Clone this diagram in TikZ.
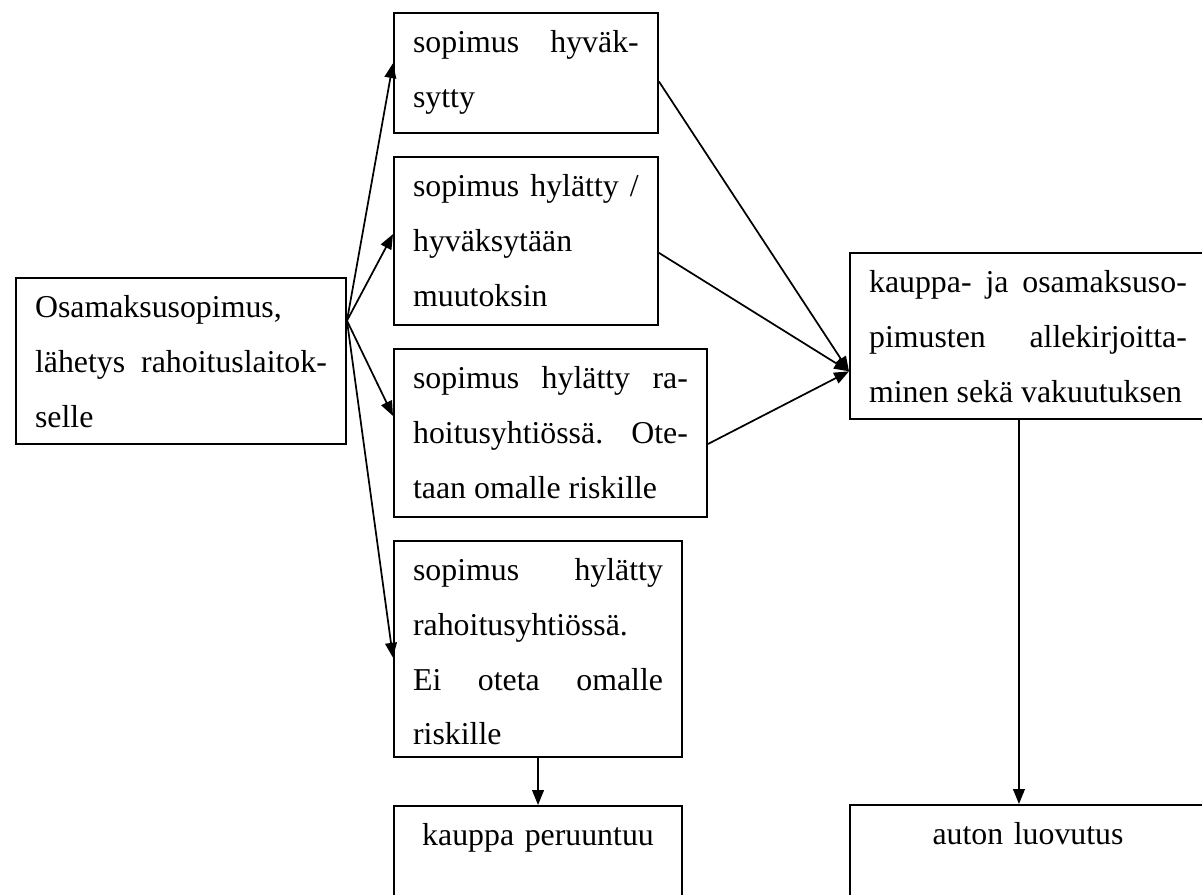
\documentclass[tikz,border=0pt]{standalone}
\usepackage{fontspec}
\setmainfont{Liberation Serif}
\usetikzlibrary{arrows.meta,calc}
\tikzset{box/.style={draw=black,line width=0.75pt,anchor=north west,align=justify,
 inner xsep=7.2pt,inner ysep=0pt,text height=14.8pt,
 font=\fontsize{12pt}{20.7pt}\selectfont},
 endbox/.style={box,align=center},
 arr/.style={-{Triangle[length=5.6pt,width=4.4pt]},line width=0.65pt}}
\tolerance=10000 \hbadness=10000 \hyphenpenalty=10000 \exhyphenpenalty=10000

\begin{document}
\begin{tikzpicture}[x=0.377pt,y=-0.377pt]
\useasboundingbox (0,0) rectangle (1202,895);
\clip (0,0) rectangle (1202,895);
\node[box,text width=110pt,text depth=47.8pt] (osa) at (15,277) {Osamaksusopimus,\newline lähetys rahoituslaitok-\linebreak selle};
\node[box,text width=85.1pt,text depth=30.4pt] (b1) at (393,12) {sopimus hyväk-\linebreak sytty};
\node[box,text width=85.1pt,text depth=48.5pt] (b2) at (393,156) {sopimus hylätty /\linebreak hyväksytään\newline muutoksin};
\node[box,text width=103.6pt,text depth=48.5pt] (b3) at (393,348) {sopimus hylätty ra-\linebreak hoitusyhtiössä. Ote-\linebreak taan omalle riskille};
\node[box,text width=94.2pt,text depth=66.6pt] (b4) at (393,540) {sopimus hylätty\linebreak rahoitusyhtiössä.\newline Ei oteta omalle\linebreak riskille};
\node[endbox,text width=94.2pt,text depth=43.6pt] (b5) at (393,805) {kauppa peruuntuu};
\node[box,text width=119.8pt,text depth=47.8pt] (kauppa) at (849,252) {\parfillskip=0pt kauppa- ja osamaksuso-\linebreak pimusten allekirjoitta-\linebreak minen sekä vakuutuksen};
\node[endbox,text width=119.8pt,text depth=43.6pt] (luovutus) at (849,804) {auton luovutus};
% from the application to the four outcomes
\coordinate (fork) at ($(osa.north east)!0.26!(osa.south east)$);
\draw[arr] (fork) -- ($(b1.north west)!0.42!(b1.south west)$);
\draw[arr] (fork) -- ($(b2.north west)!0.46!(b2.south west)$);
\draw[arr] (fork) -- ($(b3.north west)!0.4!(b3.south west)$);
\draw[arr] (fork) -- ($(b4.north west)!0.54!(b4.south west)$);
% accepted cases go on to signing
\coordinate (join) at ($(kauppa.north west)!0.71!(kauppa.south west)$);
\draw[arr] ($(b1.north east)!0.57!(b1.south east)$) -- (join);
\draw[arr] ($(b2.north east)!0.57!(b2.south east)$) -- (join);
\draw[arr] ($(b3.north east)!0.565!(b3.south east)$) -- (join);
\draw[arr] (b4.south) -- (b5.north);
\draw[arr] ([xshift=-3.4pt]kauppa.south) -- ([xshift=-3.4pt]luovutus.north);
\end{tikzpicture}
\end{document}
